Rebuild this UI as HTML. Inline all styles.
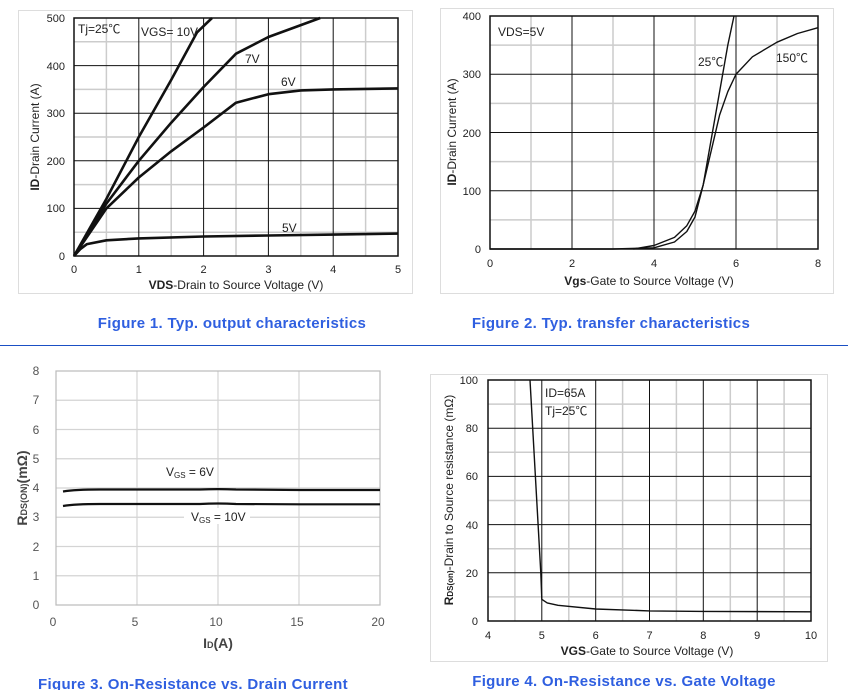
<!DOCTYPE html>
<html><head><meta charset="utf-8"><style>
html,body{margin:0;padding:0;background:#fff;}
svg{display:block;}
text{font-family:"Liberation Sans","Noto Sans CJK SC",sans-serif;fill:#222;}
.cap{fill:#2f5fe0;font-weight:bold;font-size:15px;letter-spacing:0.3px;}
</style></head><body>
<svg width="848" height="690" viewBox="0 0 848 690" xmlns="http://www.w3.org/2000/svg">
<!-- Chart 1 -->
<rect x="18.5" y="10.5" width="394" height="283" fill="#fff" stroke="#ddd"/>
<path d="M106.4 18V256M171.2 18V256M236 18V256M300.8 18V256M365.6 18V256M74 232.2H398M74 184.6H398M74 137H398M74 89.4H398M74 41.8H398" stroke="#ccc" stroke-width="1.5"/>
<path d="M138.8 18V256M203.6 18V256M268.4 18V256M333.2 18V256M74 208.4H398M74 160.8H398M74 113.2H398M74 65.6H398" stroke="#111" stroke-width="1"/>
<rect x="74" y="18" width="324" height="238" fill="none" stroke="#111" stroke-width="1.5"/>
<g fill="none" stroke="#111" stroke-width="2.6" stroke-linejoin="round">
<polyline points="74,256 106.4,198.9 138.8,137 171.2,79.9 197.1,32.3 212,18"/>
<polyline points="74,256 106.4,203.6 138.8,160.8 171.2,122.7 203.6,87 236,53.7 268.4,37 300.8,25.1 320.2,18"/>
<polyline points="74,256 106.4,208.4 138.8,177.5 171.2,151.3 203.6,127.5 236,102.7 268.4,94.2 300.8,90.4 333.2,89.4 398,88.4"/>
<polyline points="74,256 80.5,248.9 87,244.1 106.4,240.3 138.8,238.4 203.6,236.5 268.4,235.5 333.2,234.6 398,233.6"/>
</g>
<g font-size="11" text-anchor="end">
<text x="65" y="22">500</text><text x="65" y="70">400</text><text x="65" y="117">300</text><text x="65" y="165">200</text><text x="65" y="212">100</text><text x="65" y="260">0</text>
</g>
<g font-size="11" text-anchor="middle">
<text x="74" y="273">0</text><text x="138.8" y="273">1</text><text x="203.6" y="273">2</text><text x="268.4" y="273">3</text><text x="333.2" y="273">4</text><text x="398" y="273">5</text>
</g>
<text x="236" y="289" font-size="12" text-anchor="middle"><tspan font-weight="bold">VDS</tspan>-Drain to Source Voltage (V)</text>
<text transform="translate(39,137) rotate(-90)" font-size="12" text-anchor="middle"><tspan font-weight="bold">ID</tspan>-Drain Current (A)</text>
<g font-size="12"><text x="78" y="33">Tj=25℃</text><text x="141" y="36">VGS= 10V</text><text x="245" y="63">7V</text><text x="281" y="86">6V</text><text x="282" y="232">5V</text></g>
<text x="232" y="328" class="cap" text-anchor="middle">Figure 1. Typ. output characteristics</text>

<!-- Chart 2 -->
<rect x="440.5" y="8.5" width="393" height="285" fill="#fff" stroke="#ddd"/>
<path d="M531 16V249M613 16V249M695 16V249M777 16V249M490 219.9H818M490 161.6H818M490 103.4H818M490 45.1H818" stroke="#ccc" stroke-width="1.5"/>
<path d="M572 16V249M654 16V249M736 16V249M490 190.75H818M490 132.5H818M490 74.25H818" stroke="#111" stroke-width="1"/>
<rect x="490" y="16" width="328" height="233" fill="none" stroke="#111" stroke-width="1.5"/>
<g fill="none" stroke="#111" stroke-width="1.4" stroke-linejoin="round">
<polyline points="490,249 613,249 654,247.8 674.5,242 686.8,231.5 695,217 703.2,184.9 711.4,138.3 719.6,91.7 727.8,45.1 734,16"/>
<polyline points="633.5,249 654,245.5 674.5,237.4 686.8,225.7 695,211.1 703.2,184.9 711.4,150 719.6,115 727.8,91.7 736,74.25 752.4,56.8 777,42.2 797.5,33.5 818,27.7"/>
</g>
<g font-size="11" text-anchor="end">
<text x="481" y="20">400</text><text x="481" y="78">300</text><text x="481" y="137">200</text><text x="481" y="195">100</text><text x="481" y="253">0</text>
</g>
<g font-size="11" text-anchor="middle">
<text x="490" y="267">0</text><text x="572" y="267">2</text><text x="654" y="267">4</text><text x="736" y="267">6</text><text x="818" y="267">8</text>
</g>
<text x="649" y="285" font-size="12" text-anchor="middle"><tspan font-weight="bold">Vgs</tspan>-Gate to Source Voltage (V)</text>
<text transform="translate(456,132) rotate(-90)" font-size="12" text-anchor="middle"><tspan font-weight="bold">ID</tspan>-Drain Current (A)</text>
<g font-size="12"><text x="498" y="36">VDS=5V</text><text x="698" y="66">25℃</text><text x="776" y="62">150℃</text></g>
<text x="611" y="328" class="cap" text-anchor="middle">Figure 2. Typ. transfer characteristics</text>

<line x1="0" y1="345.5" x2="848" y2="345.5" stroke="#1a4fc4" stroke-width="1"/>

<!-- Chart 3 -->
<path d="M137 371V605M218 371V605M299 371V605M56 575.75H380M56 546.5H380M56 517.25H380M56 488H380M56 458.75H380M56 429.5H380M56 400.25H380" stroke="#d4d4d4" stroke-width="1.2"/>
<rect x="56" y="371" width="324" height="234" fill="none" stroke="#bbb" stroke-width="1.2"/>
<g fill="none" stroke="#111" stroke-width="2.2">
<path d="M63 491.5 Q75 489.5 100 489.5 L200 489.5 Q218 488.8 236 489.5 L300 490 L380 490"/>
<path d="M63 506 Q75 504 100 504 L200 504 Q218 503 236 504 L300 504.3 L380 504.3"/>
</g>
<rect x="184" y="508" width="66" height="16" fill="#fff"/>
<g font-size="12"><text x="166" y="476">V<tspan font-size="8" dy="2">GS</tspan><tspan dy="-2"> = 6V</tspan></text>
<text x="191" y="521">V<tspan font-size="8" dy="2">GS</tspan><tspan dy="-2"> = 10V</tspan></text></g>
<g font-size="12" text-anchor="middle">
<text x="36" y="375" style="fill:#555">8</text><text x="36" y="404" style="fill:#555">7</text><text x="36" y="434" style="fill:#555">6</text><text x="36" y="463" style="fill:#555">5</text><text x="36" y="492" style="fill:#555">4</text><text x="36" y="521" style="fill:#555">3</text><text x="36" y="551" style="fill:#555">2</text><text x="36" y="580" style="fill:#555">1</text><text x="36" y="609" style="fill:#555">0</text>
<text x="53" y="626" style="fill:#555">0</text><text x="135" y="626" style="fill:#555">5</text><text x="216" y="626" style="fill:#555">10</text><text x="297" y="626" style="fill:#555">15</text><text x="378" y="626" style="fill:#555">20</text>
</g>
<text x="218" y="648" font-size="14" font-weight="bold" text-anchor="middle" style="fill:#444">I<tspan font-size="9">D</tspan>(A)</text>
<text transform="translate(27,488) rotate(-90)" font-size="14" font-weight="bold" text-anchor="middle" style="fill:#444">R<tspan font-size="9">DS(ON)</tspan>(mΩ)</text>
<text x="193" y="689" class="cap" text-anchor="middle">Figure 3. On-Resistance vs. Drain Current</text>

<!-- Chart 4 -->
<rect x="430.5" y="374.5" width="397" height="287" fill="#fff" stroke="#ddd"/>
<path d="M514.9 380V621M568.8 380V621M622.6 380V621M676.4 380V621M730.3 380V621M784.1 380V621M488 596.9H811M488 548.7H811M488 500.5H811M488 452.3H811M488 404.1H811" stroke="#ccc" stroke-width="1.5"/>
<path d="M541.8 380V621M595.7 380V621M649.5 380V621M703.3 380V621M757.2 380V621M488 572.8H811M488 524.6H811M488 476.4H811M488 428.2H811" stroke="#111" stroke-width="1"/>
<rect x="488" y="380" width="323" height="241" fill="none" stroke="#111" stroke-width="1.5"/>
<polyline fill="none" stroke="#111" stroke-width="1.4" stroke-linejoin="round" points="530,380 540.8,572.8 541.8,599.3 547.2,602.9 558,605.3 595.7,609 649.5,610.9 703.3,611.4 811,611.8"/>
<g font-size="11" text-anchor="end">
<text x="478" y="384">100</text><text x="478" y="432">80</text><text x="478" y="480">60</text><text x="478" y="529">40</text><text x="478" y="577">20</text><text x="478" y="625">0</text>
</g>
<g font-size="11" text-anchor="middle">
<text x="488" y="639">4</text><text x="541.8" y="639">5</text><text x="595.7" y="639">6</text><text x="649.5" y="639">7</text><text x="703.3" y="639">8</text><text x="757.2" y="639">9</text><text x="811" y="639">10</text>
</g>
<text x="647" y="655" font-size="12" text-anchor="middle"><tspan font-weight="bold">VGS</tspan>-Gate to Source Voltage (V)</text>
<text transform="translate(453,500) rotate(-90)" font-size="12" text-anchor="middle"><tspan font-weight="bold">R</tspan><tspan font-size="8" font-weight="bold">DS(on)</tspan>-Drain to Source resistance (mΩ)</text>
<g font-size="12"><text x="545" y="397">ID=65A</text><text x="545" y="415">Tj=25℃</text></g>
<text x="624" y="686" class="cap" text-anchor="middle">Figure 4. On-Resistance vs. Gate Voltage</text>
</svg>
</body></html>
